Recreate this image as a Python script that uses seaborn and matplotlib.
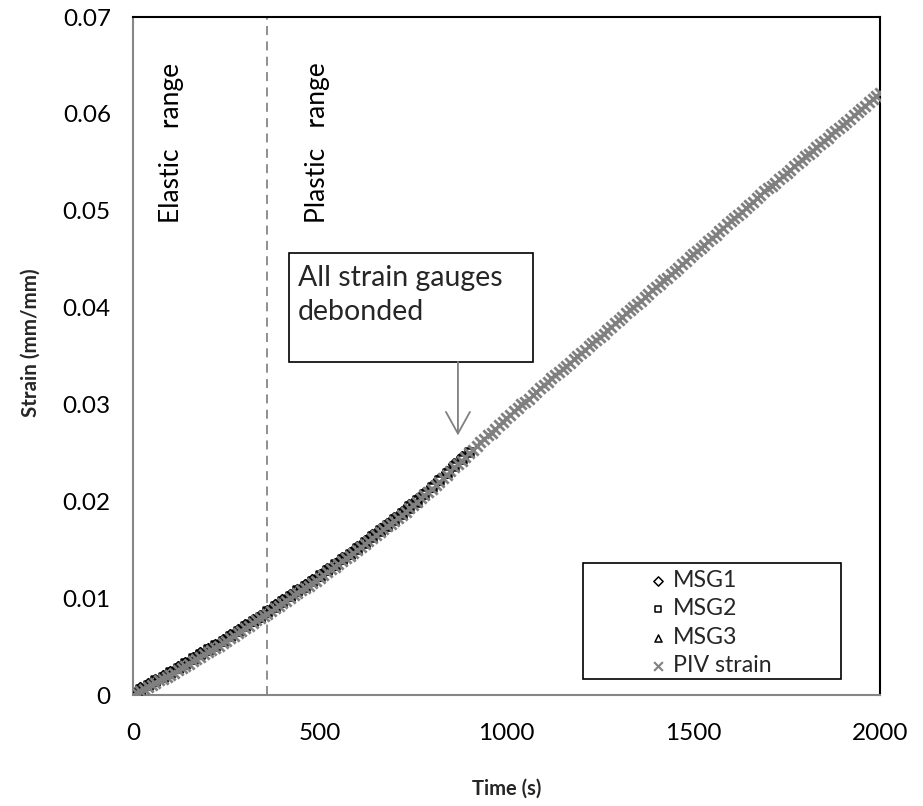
import matplotlib
matplotlib.use("Agg")
import matplotlib.pyplot as plt
import seaborn as sns
import pandas as pd
from matplotlib.patches import Rectangle

# ---------------- data ----------------
piv_time = list(range(0, 2001, 10))
piv_strain = [
    0.0000, 0.0002, 0.0004, 0.0006, 0.0008, 0.0010, 0.0012, 0.0015, 0.0017, 0.0019,
    0.0021, 0.0023, 0.0026, 0.0028, 0.0030, 0.0032, 0.0035, 0.0037, 0.0039, 0.0042,
    0.0044, 0.0046, 0.0049, 0.0051, 0.0054, 0.0056, 0.0059, 0.0061, 0.0064, 0.0066,
    0.0069, 0.0071, 0.0074, 0.0077, 0.0079, 0.0082, 0.0084, 0.0087, 0.0090, 0.0092,
    0.0095, 0.0097, 0.0100, 0.0103, 0.0105, 0.0108, 0.0110, 0.0113, 0.0116, 0.0118,
    0.0121, 0.0124, 0.0127, 0.0130, 0.0132, 0.0135, 0.0138, 0.0141, 0.0144, 0.0147,
    0.0150, 0.0153, 0.0156, 0.0159, 0.0162, 0.0165, 0.0168, 0.0171, 0.0174, 0.0177,
    0.0180, 0.0183, 0.0186, 0.0189, 0.0193, 0.0196, 0.0199, 0.0203, 0.0206, 0.0210,
    0.0213, 0.0217, 0.0220, 0.0224, 0.0227, 0.0231, 0.0235, 0.0238, 0.0242, 0.0246,
    0.0250, 0.0253, 0.0257, 0.0261, 0.0264, 0.0268, 0.0271, 0.0275, 0.0279, 0.0282,
    0.0286, 0.0289, 0.0293, 0.0296, 0.0300, 0.0303, 0.0306, 0.0310, 0.0313, 0.0317,
    0.0320, 0.0323, 0.0327, 0.0330, 0.0334, 0.0337, 0.0340, 0.0343, 0.0347, 0.0350,
    0.0353, 0.0356, 0.0360, 0.0363, 0.0367, 0.0370, 0.0373, 0.0377, 0.0380, 0.0384,
    0.0387, 0.0390, 0.0394, 0.0397, 0.0401, 0.0404, 0.0407, 0.0411, 0.0414, 0.0418,
    0.0421, 0.0424, 0.0428, 0.0431, 0.0435, 0.0438, 0.0441, 0.0445, 0.0448, 0.0452,
    0.0455, 0.0458, 0.0462, 0.0465, 0.0469, 0.0472, 0.0475, 0.0479, 0.0482, 0.0486,
    0.0489, 0.0492, 0.0496, 0.0499, 0.0503, 0.0506, 0.0509, 0.0513, 0.0516, 0.0520,
    0.0523, 0.0526, 0.0529, 0.0533, 0.0536, 0.0539, 0.0542, 0.0546, 0.0549, 0.0552,
    0.0556, 0.0559, 0.0562, 0.0566, 0.0569, 0.0572, 0.0575, 0.0579, 0.0582, 0.0585,
    0.0589, 0.0592, 0.0595, 0.0599, 0.0602, 0.0605, 0.0608, 0.0612, 0.0615, 0.0618,
    0.0622,
]

msg1_time = [0, 5, 10, 15] + list(range(20, 881, 20))
msg1_strain = [0.0, 0.0, 0.0, 0.0,
    0.0007, 0.0011, 0.0015, 0.0020, 0.0024, 0.0029, 0.0033, 0.0038, 0.0043, 0.0047,
    0.0052, 0.0057, 0.0062, 0.0067, 0.0072, 0.0077, 0.0082, 0.0087, 0.0093, 0.0098,
    0.0103, 0.0108, 0.0114, 0.0119, 0.0124, 0.0130, 0.0135, 0.0141, 0.0147, 0.0153,
    0.0159, 0.0165, 0.0171, 0.0177, 0.0183, 0.0189, 0.0196, 0.0202, 0.0209, 0.0216,
    0.0223, 0.0230, 0.0238, 0.0246]

msg2_time = [0, 5, 10, 15] + list(range(20, 901, 20))
msg2_strain = [0.0, 0.0, 0.0, 0.0,
    0.0006, 0.0010, 0.0015, 0.0019, 0.0024, 0.0028, 0.0033, 0.0038, 0.0042, 0.0047,
    0.0052, 0.0056, 0.0061, 0.0066, 0.0071, 0.0076, 0.0081, 0.0087, 0.0092, 0.0097,
    0.0102, 0.0108, 0.0113, 0.0118, 0.0124, 0.0129, 0.0135, 0.0140, 0.0146, 0.0152,
    0.0158, 0.0164, 0.0170, 0.0176, 0.0182, 0.0188, 0.0195, 0.0201, 0.0208, 0.0215,
    0.0222, 0.0229, 0.0236, 0.0244, 0.0251]

msg3_time = [0, 5, 10, 15] + list(range(20, 761, 20))
msg3_strain = [0.0, 0.0, 0.0, 0.0,
    0.0006, 0.0010, 0.0014, 0.0019, 0.0023, 0.0028, 0.0032, 0.0037, 0.0042, 0.0046,
    0.0051, 0.0056, 0.0061, 0.0066, 0.0071, 0.0076, 0.0081, 0.0086, 0.0091, 0.0096,
    0.0102, 0.0107, 0.0112, 0.0118, 0.0123, 0.0129, 0.0134, 0.0140, 0.0146, 0.0151,
    0.0157, 0.0163, 0.0169, 0.0175, 0.0181, 0.0187, 0.0193, 0.0199]

x_ticks = [0, 500, 1000, 1500, 2000]
y_ticks = [0, 0.01, 0.02, 0.03, 0.04, 0.05, 0.06, 0.07]
y_tick_labels = ["0", "0.01", "0.02", "0.03", "0.04", "0.05", "0.06", "0.07"]
elastic_limit = 360

# ---------------- style ----------------
sns.set_theme(style="white")
plt.rcParams["font.family"] = ["Lato", "DejaVu Sans"]

GRAY = "#868686"
PIV_GRAY = "#808080"

fig = plt.figure(figsize=(9.23, 8.06), dpi=100)
ax = fig.add_axes([0.1441, 0.1377, 0.8093, 0.8412])

df1 = pd.DataFrame({"t": msg1_time, "s": msg1_strain})
df2 = pd.DataFrame({"t": msg2_time, "s": msg2_strain})
df3 = pd.DataFrame({"t": msg3_time, "s": msg3_strain})
dfp = pd.DataFrame({"t": piv_time, "s": piv_strain})

sns.scatterplot(data=df1, x="t", y="s", marker="D", s=30, facecolor="white",
                edgecolor="black", linewidth=1.8, ax=ax, label="MSG1", zorder=3)
sns.scatterplot(data=df2, x="t", y="s", marker="s", s=30, facecolor="white",
                edgecolor="black", linewidth=1.8, ax=ax, label="MSG2", zorder=3)
sns.scatterplot(data=df3, x="t", y="s", marker="^", s=34, facecolor="white",
                edgecolor="black", linewidth=1.8, ax=ax, label="MSG3", zorder=3)
sns.scatterplot(data=dfp, x="t", y="s", marker="x", s=55, color=PIV_GRAY,
                linewidth=2.0, ax=ax, label="PIV strain", zorder=4)

ax.set_xlim(0, 2000)
ax.set_ylim(0, 0.07)
ax.set_xticks(x_ticks)
ax.set_xticklabels([str(v) for v in x_ticks])
ax.set_yticks(y_ticks)
ax.set_yticklabels(y_tick_labels)
ax.tick_params(axis="both", direction="out", length=5, width=1.2, color=GRAY,
               labelsize=17.5, labelcolor="black")
ax.tick_params(axis="x", pad=15)
ax.tick_params(axis="y", pad=11)

for side in ["left", "bottom"]:
    ax.spines[side].set_color(GRAY)
    ax.spines[side].set_linewidth(1.5)
for side in ["top", "right"]:
    ax.spines[side].set_color("black")
    ax.spines[side].set_linewidth(1.5)

ax.set_xlabel("Time (s)", fontsize=14.5, fontweight="bold", labelpad=25)
ax.set_ylabel("Strain (mm/mm)", fontsize=14.8, fontweight="bold")
ax.yaxis.set_label_coords(-0.1235, 0.52)

# dashed boundary between elastic / plastic
ax.axvline(elastic_limit, color=GRAY, linestyle=(0, (5, 3.5)), linewidth=1.3, zorder=1)

ax.text(102, 0.0487, "Elastic   range", rotation=90, ha="center", va="bottom",
        fontsize=19, color="black")
ax.text(494, 0.0487, "Plastic   range", rotation=90, ha="center", va="bottom",
        fontsize=19, color="black")

# annotation box
ax.add_patch(Rectangle((418, 0.0344), 653, 0.0112, facecolor="white",
                       edgecolor="black", linewidth=1.2, zorder=5))
ax.text(442, 0.0413, "All strain gauges\ndebonded", ha="left", va="center",
        fontsize=20.5, linespacing=1.38, zorder=6)
ax.annotate("", xy=(870, 0.0268), xytext=(870, 0.0344),
            arrowprops=dict(arrowstyle="->,head_length=1.3,head_width=0.72",
                            color=PIV_GRAY, linewidth=1.3,
                            shrinkA=0, shrinkB=0), zorder=6)

# legend
handles, labels = ax.get_legend_handles_labels()
leg = ax.legend(handles, labels, loc="upper left", bbox_to_anchor=(0.6908, 0.1844),
                frameon=False, fontsize=16.7, handlelength=0.8, handletextpad=0.23,
                labelspacing=0.32, borderpad=0, borderaxespad=0)
leg_sizes = [22, 22, 26, 40]
leg_widths = [1.1, 1.1, 1.1, 1.5]
for h, sz, lw in zip(leg.legend_handles, leg_sizes, leg_widths):
    h.set_sizes([sz])
    h.set_linewidth(lw)
ax.add_patch(Rectangle((0.602, 0.0236), 0.346, 0.171, transform=ax.transAxes,
                       facecolor="none", edgecolor="black", linewidth=1.2, zorder=5))

fig.savefig("out.png", dpi=100)
